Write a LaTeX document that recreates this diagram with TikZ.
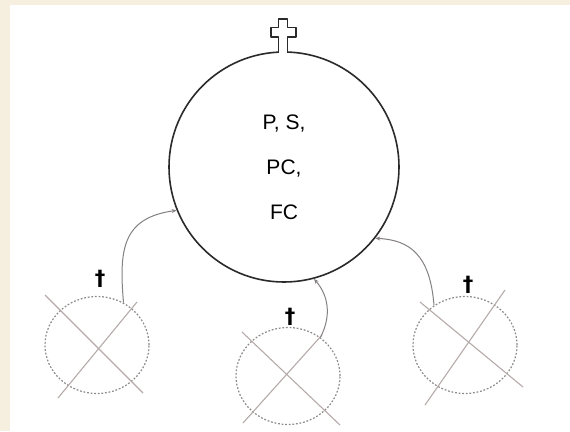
\documentclass[tikz,border=0pt]{standalone}
\usepackage{fontspec}
\setmainfont{Liberation Sans}
\newfontfamily\markfont{DejaVu Sans}
\usetikzlibrary{shapes.geometric,arrows.meta}
\definecolor{pagecream}{HTML}{F6EFDF}
\definecolor{cellline}{HTML}{2A2A2A}
\definecolor{ghostgray}{HTML}{8E8A8A}
\definecolor{strikegray}{HTML}{B5ABA9}
\definecolor{linkgray}{HTML}{858180}
\tikzset{
  cell/.style={circle,draw=cellline,line width=1.6pt,minimum size=230pt,
    inner sep=0pt,align=center,font=\fontsize{21}{45}\selectfont},
  ghost cell/.style={ellipse,draw=ghostgray,line width=1.2pt,
    dash pattern=on 1.8pt off 1.8pt,minimum width=104pt,minimum height=97pt,
    inner sep=0pt},
  strike/.style={draw=strikegray,line width=1.1pt},
  link/.style={draw=linkgray,line width=1pt,-{Stealth[length=5pt,width=4pt]}},
  dagger label/.style={inner sep=0pt,font=\markfont\fontsize{21}{21}\selectfont\bfseries}
}

\begin{document}
\begin{tikzpicture}[x=1pt,y=-1pt]
  % page
  \fill[pagecream] (0,0) rectangle (570,431);
  \fill[white] (10,5) rectangle (570,431);

  % surviving cell with its cross on top
  \node[cell] (cell) at (284,167) {P, S,\\PC,\\FC};
  \draw[cellline,line width=1.6pt,fill=white,line join=round]
    (278.5,53) -- (278.5,37) -- (271,37) -- (271,27.5) -- (278.5,27.5) -- (278.5,19)
    -- (287.5,19) -- (287.5,27.5) -- (296,27.5) -- (296,37) -- (287.5,37) -- (287.5,53);

  % dead cells
  \node[ghost cell] (lostL) at (97,345) {};
  \node[ghost cell] (lostM) at (288,376) {};
  \node[ghost cell] (lostR) at (465,345) {};
  \draw[strike] (45,295) -- (143,393);
  \draw[strike] (137,302) -- (58,398);
  \draw[strike] (242,332) -- (340,425);
  \draw[strike] (322,335) -- (243,423);
  \draw[strike] (420,302) -- (523,387);
  \draw[strike] (505,290) -- (425,405);

  \node[dagger label] (dagL) at (100,279) {\textdagger};
  \node[dagger label] (dagM) at (290,317) {\textdagger};
  \node[dagger label] (dagR) at (468,285) {\textdagger};

  % what they hand over
  \draw[link] (lostL.58) .. controls (119,250) and (122,218) .. (cell.-158);
  \draw[link] (lostM.50) .. controls (332,315) and (328,295) .. (cell.-75);
  \draw[link] (lostR.128) .. controls (430,255) and (410,240) .. (cell.-38);
\end{tikzpicture}
\end{document}
